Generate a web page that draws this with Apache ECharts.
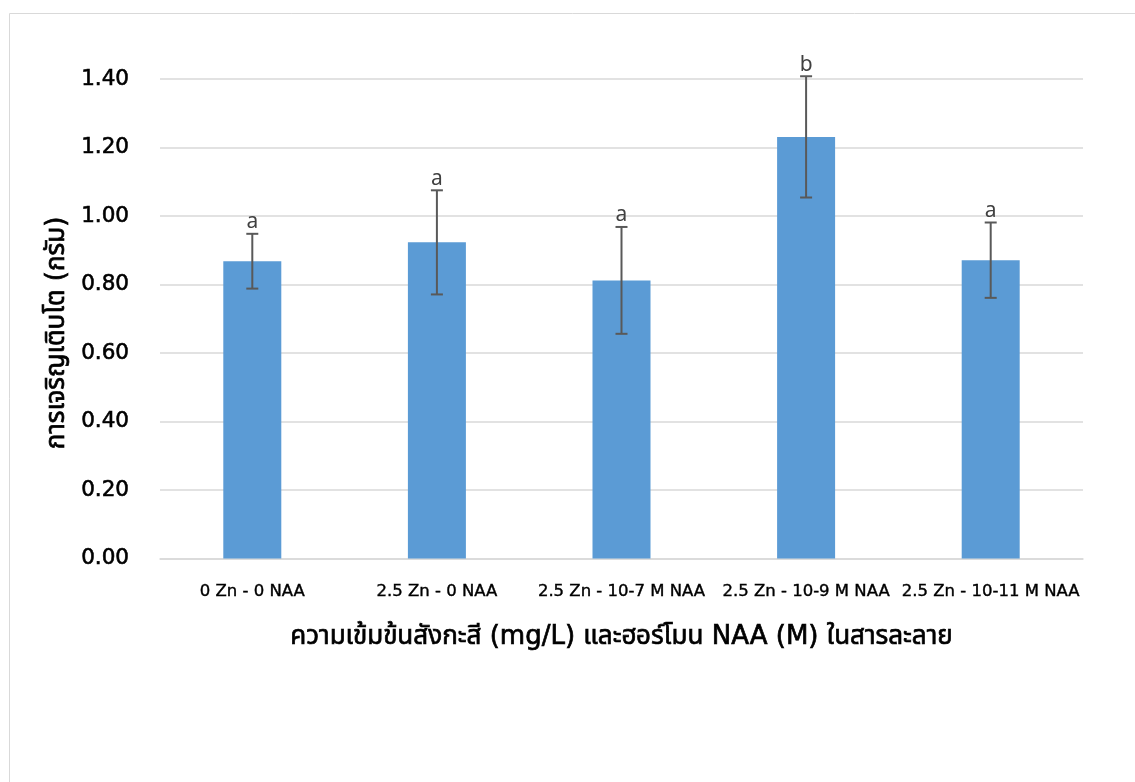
<!DOCTYPE html>
<html><head><meta charset="utf-8">
<script src="https://cdn.jsdelivr.net/npm/echarts@6/dist/echarts.min.js"></script>
<style>html,body{margin:0;padding:0;background:#fff}#c{width:1135px;height:782px}</style>
</head><body><div id="c"></div>
<script>
var categories = ['0 Zn - 0 NAA', '2.5 Zn - 0 NAA', '2.5 Zn - 10-7 M NAA', '2.5 Zn - 10-9 M NAA', '2.5 Zn - 10-11 M NAA'];
var means = [0.868, 0.923, 0.812, 1.231, 0.871];
var errors = [0.080, 0.152, 0.156, 0.177, 0.110];
var letters = ['a', 'a', 'a', 'b', 'a'];
var yTicks = [0, 0.2, 0.4, 0.6, 0.8, 1.0, 1.2, 1.4];
var yTitle = 'การเจริญเติบโต (กรัม)';
var xTitle = 'ความเข้มข้นสังกะสี (mg/L) และฮอร์โมน NAA (M) ในสารละลาย';

var FONT = '"DejaVu Sans", "Noto Sans Thai", "Noto Sans", sans-serif';
var chart = echarts.init(document.getElementById('c'));
var errData = means.map(function (m, i) { return [i, m - errors[i], m + errors[i]]; });

chart.setOption({
  animation: false,
  grid: { left: 160, right: 52, top: 79, bottom: 223.5, containLabel: false },
  graphic: [
    { type: 'rect', shape: { x: 9.5, y: 13.5, width: 1200, height: 900 }, style: { fill: 'none', stroke: '#d9d9d9', lineWidth: 1 }, silent: true },
    { type: 'text', x: 57, y: 333, rotation: Math.PI / 2,
      style: { text: yTitle, font: '26px ' + FONT, fill: '#000', stroke: '#000', lineWidth: 0.7, align: 'center', verticalAlign: 'middle' } }
  ],
  xAxis: {
    type: 'category', data: categories,
    axisTick: { show: false },
    axisLine: { lineStyle: { color: '#d9d9d9', width: 1.5 } },
    axisLabel: { color: '#000', fontFamily: FONT, fontSize: 16.5, fontWeight: 'normal', margin: 25, interval: 0,
      textBorderColor: '#000', textBorderWidth: 0.4 },
    name: xTitle, nameLocation: 'middle', nameGap: 66,
    nameTextStyle: { color: '#000', fontFamily: FONT, fontSize: 26, fontWeight: 'normal', textBorderColor: '#000', textBorderWidth: 0.7 }
  },
  yAxis: {
    type: 'value', min: 0, max: 1.4, interval: 0.2,
    axisLine: { show: false }, axisTick: { show: false },
    splitLine: { lineStyle: { color: '#d9d9d9', width: 1.5 } },
    axisLabel: { color: '#000', fontFamily: FONT, fontSize: 21.5, fontWeight: 'normal', margin: 31,
      textBorderColor: '#000', textBorderWidth: 0.6,
      formatter: function (v) { return v.toFixed(2); } }
  },
  series: [
    { type: 'bar', data: means, barWidth: 58, itemStyle: { color: '#5b9bd5' } },
    { type: 'custom', data: errData, z: 10,
      renderItem: function (params, api) {
        var x = api.value(0);
        var lo = api.coord([x, api.value(1)]);
        var hi = api.coord([x, api.value(2)]);
        var hw = 6;
        var st = { stroke: '#595959', lineWidth: 2 };
        return { type: 'group', children: [
          { type: 'line', shape: { x1: hi[0], y1: hi[1], x2: lo[0], y2: lo[1] }, style: st },
          { type: 'line', shape: { x1: hi[0] - hw, y1: hi[1], x2: hi[0] + hw, y2: hi[1] }, style: st },
          { type: 'line', shape: { x1: lo[0] - hw, y1: lo[1], x2: lo[0] + hw, y2: lo[1] }, style: st },
          { type: 'text', x: hi[0], y: hi[1] - 1, style: { text: letters[params.dataIndex], font: '21px "Noto Sans", sans-serif', fill: '#404040', align: 'center', verticalAlign: 'bottom' } }
        ] };
      }
    }
  ]
});
</script></body></html>
